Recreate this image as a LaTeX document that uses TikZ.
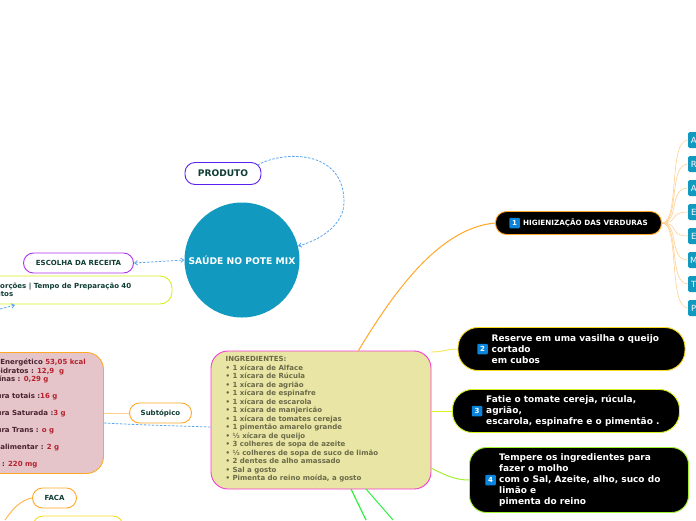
\documentclass[tikz,border=0pt]{standalone}
\usepackage{fontspec}
\setmainfont{DejaVu Sans}
\usepackage{xcolor}
\usetikzlibrary{arrows.meta, positioning}
\definecolor{teal1}{HTML}{1199BF}
\definecolor{darktext}{HTML}{0F3D33}
\definecolor{numblue}{HTML}{0A84DC}
\definecolor{linkblue}{HTML}{5AA5EE}
\definecolor{linkorange}{HTML}{FFA726}
\definecolor{paleorange}{HTML}{FFCF8F}
\definecolor{redtext}{HTML}{B5222E}
\definecolor{maroontext}{HTML}{4A2230}
\definecolor{olivetext}{HTML}{6A6A48}
\definecolor{rosefill}{HTML}{E5C5C9}
\definecolor{sandfill}{HTML}{E9E5A5}
\definecolor{pinkline}{HTML}{F43CD2}
\definecolor{yellowline}{HTML}{F5DC20}
\definecolor{limeline}{HTML}{D8F020}
\definecolor{greenline}{HTML}{A0F030}
\definecolor{brightgreen}{HTML}{30F040}
\definecolor{indigoline}{HTML}{5A20F0}
\definecolor{purpleline}{HTML}{B030F0}
\tikzset{
    topic/.style={draw, rounded corners=10pt, line width=0.9pt, fill=white, text=darktext, font=\bfseries\fontsize{7}{8.5}\selectfont, align=center, inner sep=0pt},
    step box/.style={draw=#1, line width=0.9pt, fill=black, minimum width=227pt, minimum height=43pt, rounded corners=20pt},
    step text/.style={text=white, font=\bfseries\fontsize{9}{11}\selectfont, align=left, inner sep=0pt, anchor=west},
    number/.style={fill=numblue, rounded corners=1pt, text=white, font=\bfseries\fontsize{7}{7}\selectfont, minimum size=10.5pt, inner sep=0pt},
    leaf/.style={fill=teal1, rounded corners=1.5pt, text=white, font=\fontsize{8.5}{9}\selectfont, minimum width=30pt, minimum height=16pt, anchor=west, inner sep=0pt},
    link/.style={linkblue, line width=0.8pt, dash pattern=on 2.5pt off 1.5pt},
    branch/.style={line width=1pt},
    tip/.style={-{Straight Barb[length=3pt,width=4.5pt]}},
    tips/.style={{Straight Barb[length=3pt,width=4.5pt]}-{Straight Barb[length=3pt,width=4.5pt]}}
}
\begin{document}
\begin{tikzpicture}[x=1pt, y=-1pt]
    \useasboundingbox (0,0) rectangle (696,520);
    \clip (0,0) rectangle (696,520);

    % centre
    \node[circle, fill=teal1, minimum size=115pt, inner sep=0pt, text=white, font=\bfseries\fontsize{9.2}{10}\selectfont] (main) at (242,260) {SAÚDE NO POTE MIX};

    % left side
    \node[topic, draw=indigoline, minimum width=76pt, minimum height=22pt, font=\bfseries\fontsize{9.1}{10}\selectfont] (produto) at (223,173.5) {PRODUTO};
    \node[topic, draw=purpleline, minimum width=110pt, minimum height=20pt] (receita) at (78.5,263) {ESCOLHA DA RECEITA};
    \node[topic, draw=limeline, minimum width=210pt, minimum height=28pt, rounded corners=12pt] (porcoes) at (67,290) {};
    \node[anchor=west, text=darktext, font=\bfseries\fontsize{7}{8}\selectfont, align=left] (porcoestext) at (-8.3,290) {porções | Tempo de Preparação 40\\\hspace{-14pt}minutos};

    % nutrition
    \node[draw=linkorange, line width=0.9pt, fill=rosefill, rounded corners=17pt, minimum width=180pt, minimum height=121pt, inner sep=0pt] (nutri) at (13.5,413) {};
    \node[anchor=west, text=maroontext, font=\bfseries\fontsize{7}{8.5}\selectfont, align=left] (nutritext) at (-26,413.5) {%
        Valor Energético \textcolor{redtext}{53,05 kcal}\\
        Carboidratos : \textcolor{redtext}{12,9\ \ g}\\
        Proteínas : \textcolor{redtext}{0,29 g}\\[8.5pt]
        Gordura totais :\textcolor{redtext}{16 g}\\[8.5pt]
        Gordura Saturada :\textcolor{redtext}{3 g}\\[8.5pt]
        Gordura Trans : \textcolor{redtext}{o g}\\[8.5pt]
        Fibra alimentar : \textcolor{redtext}{2 g}\\[8.5pt]
        Sódio : \textcolor{redtext}{220 mg}};
    \node[topic, draw=linkorange, minimum width=62pt, minimum height=20pt] (sub) at (160.5,413) {Subtópico};
    \node[topic, draw=linkorange, minimum width=44pt, minimum height=20pt] (faca) at (54.5,498) {FACA};
    \node[topic, draw=yellowline, minimum width=90pt, minimum height=20pt] (lower) at (78,526) {};

    % ingredients
    \node[draw=pinkline, line width=0.9pt, fill=sandfill, rounded corners=17pt, minimum width=220pt, minimum height=138pt, inner sep=0pt] (ingred) at (321,420) {};
    \node[anchor=west, text=olivetext, font=\bfseries\fontsize{7}{8.5}\selectfont, align=left, inner sep=0pt] (ingredtext) at (225.5,419.5) {%
        INGREDIENTES:\\
        • 1 xícara de Alface\\
        • 1 xícara de Rúcula\\
        • 1 xícara de agrião\\
        • 1 xícara de espinafre\\
        • 1 xícara de escarola\\
        • 1 xícara de manjericão\\
        • 1 xícara de tomates cerejas\\
        • 1 pimentão amarelo grande\\
        • ½ xícara de queijo\\
        • 3 colheres de sopa de azeite\\
        • ½ colheres de sopa de suco de limão\\
        • 2 dentes de alho amassado\\
        • Sal a gosto\\
        • Pimenta do reino moída, a gosto};

    % steps
    \node[draw=linkorange, line width=0.9pt, fill=black, rounded corners=11pt, minimum width=166pt, minimum height=23pt] (passo1) at (578.5,223) {};
    \node[number] (num1) at (514.5,223) {1};
    \node[step text, font=\bfseries\fontsize{7.2}{8}\selectfont, right=3pt of num1] (passo1text) {HIGIENIZAÇÃO DAS VERDURAS};

    \node[step box=yellowline] (passo2) at (571.5,349) {};
    \node[number] (num2) at (482.5,349) {2};
    \node[step text] (passo2text) at (491.5,349) {Reserve em uma vasilha o queijo\\cortado\\em cubos};

    \node[step box=limeline] (passo3) at (566,411) {};
    \node[number] (num3) at (477,411) {3};
    \node[step text] (passo3text) at (486,411) {Fatie o tomate cereja, rúcula,\\agrião,\\escarola, espinafre e o pimentão .};

    \node[step box=greenline, rounded corners=17pt, minimum width=219pt, minimum height=65pt] (passo4) at (579,480) {};
    \node[number] (num4) at (490.5,480) {4};
    \node[step text] (passo4text) at (499,480) {Tempere os ingredientes para\\fazer o molho\\com o Sal, Azeite, alho, suco do\\limão e\\pimenta do reino};

    % leaves
    \foreach \name/\letter/\ypos in {a/A/140, b/R/164, c/A/188, d/E/212, e/E/236, f/M/260, g/T/284, h/P/308} {
        \node[leaf] (leaf\name) at (688,\ypos) {\hspace{-19pt}\letter};
        \draw[paleorange, line width=0.6pt] (passo1.east) .. controls (680,223) and (668,\ypos) .. (leaf\name.west);
    }

    % connectors
    \coordinate (belowa) at (366,520);
    \coordinate (belowb) at (393,520);
    \draw[branch, linkorange] (ingred.north east) ++(-73,0) .. controls (395,290) and (440,228) .. (passo1.west);
    \draw[branch, yellowline!70!white] (ingred.east |- 0,352) .. controls (442,352) and (448,349) .. (passo2.west);
    \draw[branch, limeline] (ingred.east |- passo3) -- (passo3.west);
    \draw[branch, greenline] (431,468) .. controls (445,475) and (455,480) .. (passo4.west);
    \draw[branch, brightgreen, line width=1.2pt] (351,489) -- (belowa);
    \draw[branch, brightgreen] (366,489) -- (belowb);
    \draw[branch, paleorange] (nutri.east |- sub) -- (sub.west);
    \draw[link] (104,423) .. controls (140,425) and (180,426) .. (ingred.west |- 0,427);
    \draw[link, tip] (produto.north east) ++(-4,3) .. controls (285,150) and (344,150) .. (344,202) .. controls (344,225) and (320,240) .. (298,246);
    \draw[link, tips] (receita.east) -- (main.west);
    \draw[link, tip] (0,309) -- (15,305);
    \draw[branch, linkorange!80!white] (faca.west) .. controls (20,500) and (12,510) .. (5,520);
\end{tikzpicture}
\end{document}
